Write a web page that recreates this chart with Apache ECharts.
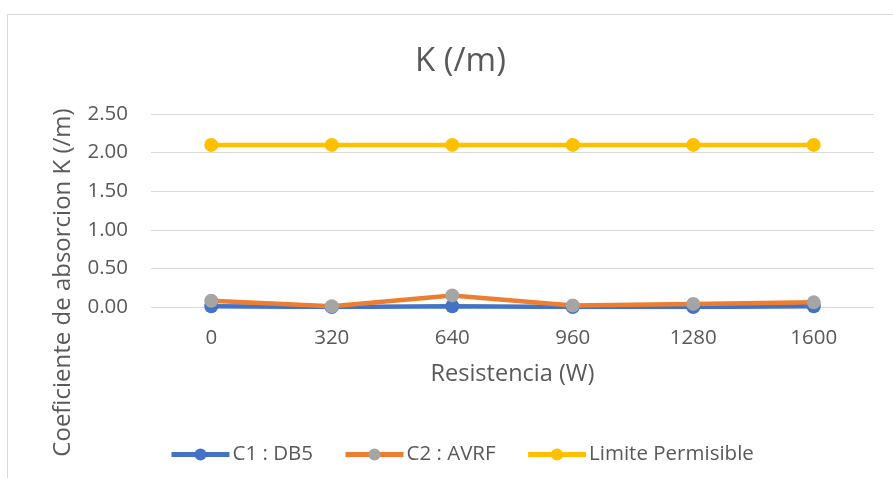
<!DOCTYPE html>
<html>
<head>
<meta charset="utf-8">
<script src="https://cdn.jsdelivr.net/npm/echarts@6/dist/echarts.min.js"></script>
<style>
  html, body { margin: 0; padding: 0; background: #ffffff; }
  #chart { width: 893px; height: 478px; }
</style>
</head>
<body>
<div id="chart"></div>
<script>
// Resistencia (W) categories
const categories = ['0', '320', '640', '960', '1280', '1600'];
// Absorption coefficient K (/m)
const c1Values = [0.01, 0.00, 0.01, 0.00, 0.00, 0.01];
const c2Values = [0.08, 0.01, 0.15, 0.02, 0.04, 0.06];
const limitValues = [2.10, 2.10, 2.10, 2.10, 2.10, 2.10];

const textColor = '#595959';
const font = '"Open Sans", "Noto Sans", sans-serif';

const chart = echarts.init(document.getElementById('chart'));

function lineSeries(name, data, lineColor, markerColor, z) {
  return {
    name: name,
    type: 'line',
    data: data,
    symbol: 'circle',
    symbolSize: 14,
    z: z,
    lineStyle: { color: lineColor, width: 4.5 },
    itemStyle: { color: markerColor, borderWidth: 0 },
    emphasis: { disabled: true }
  };
}

chart.setOption({
  animation: false,
  backgroundColor: '#ffffff',
  graphic: [{
    type: 'rect',
    shape: { x: 7.5, y: 14.5, width: 900, height: 500 },
    style: { fill: 'none', stroke: '#d9d9d9', lineWidth: 1 },
    silent: true
  }],
  title: {
    text: 'K (/m)',
    left: 410,
    top: 40,
    textStyle: { color: textColor, fontSize: 33, fontWeight: 'normal', fontFamily: font }
  },
  legend: {
    top: 439,
    left: 164,
    itemWidth: 58,
    itemHeight: 15,
    itemGap: 30,
    lineStyle: { width: 5 },
    textStyle: { color: textColor, fontSize: 20.5, fontFamily: font, padding: [0, 0, 0, -2] },
    data: ['C1 : DB5', 'C2 : AVRF', 'Limite Permisible']
  },
  grid: { left: 151, right: 19, top: 114, bottom: 171, containLabel: false },
  xAxis: {
    type: 'category',
    data: categories,
    boundaryGap: true,
    name: 'Resistencia (W)',
    nameLocation: 'middle',
    nameGap: 55,
    nameTextStyle: { color: textColor, fontSize: 23.5, fontFamily: font },
    axisLine: { show: false },
    axisTick: { show: false },
    axisLabel: { color: textColor, fontSize: 20.5, fontFamily: font, margin: 21 }
  },
  yAxis: {
    type: 'value',
    min: 0,
    max: 2.5,
    interval: 0.5,
    name: 'Coeficiente de absorcion K (/m)',
    nameLocation: 'middle',
    nameGap: 76,
    // right padding shifts the rotated title down along the axis
    nameTextStyle: { color: textColor, fontSize: 24, fontFamily: font, padding: [0, 144, 0, 0] },
    axisLine: { show: false },
    axisTick: { show: false },
    axisLabel: {
      color: textColor, fontSize: 20.5, fontFamily: font, margin: 23,
      formatter: v => v.toFixed(2)
    },
    splitLine: { lineStyle: { color: '#d9d9d9', width: 1 } }
  },
  series: [
    lineSeries('C1 : DB5', c1Values, '#4472c4', '#4472c4', 2),
    lineSeries('C2 : AVRF', c2Values, '#ed7d31', '#a5a5a5', 3),
    lineSeries('Limite Permisible', limitValues, '#ffc000', '#ffc000', 4)
  ]
});
</script>
</body>
</html>
